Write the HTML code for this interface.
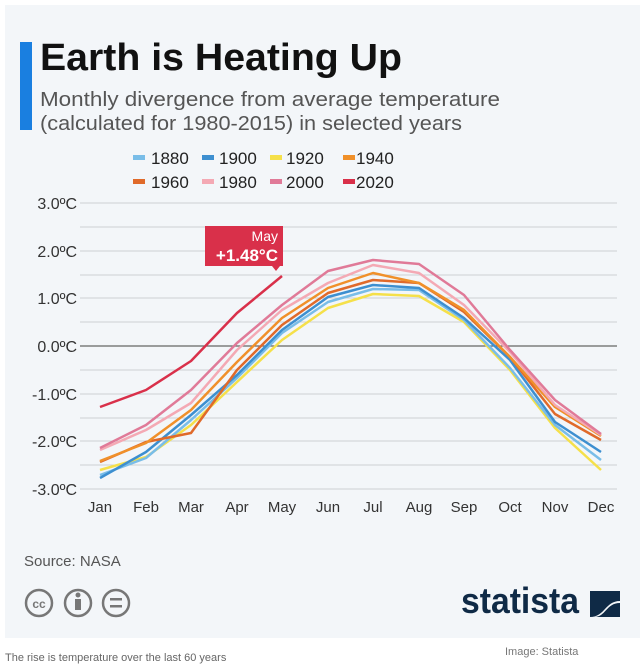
<!DOCTYPE html>
<html><head><meta charset="utf-8"><style>
body{margin:0;width:644px;height:670px;background:#fff;font-family:"Liberation Sans",sans-serif;overflow:hidden;position:relative}
.panel{position:absolute;left:5px;top:5px;width:635px;height:633px;background:#f3f6f9}
</style></head><body>
<div class="panel"></div>
<svg width="644" height="670" style="position:absolute;left:0;top:0" font-family="Liberation Sans, sans-serif">
<rect x="20" y="42" width="12" height="88" fill="#1a7fe0"/>
<text x="40" y="70" font-size="38" font-weight="bold" fill="#111" textLength="362" lengthAdjust="spacingAndGlyphs">Earth is Heating Up</text>
<text x="40" y="106" font-size="20" fill="#555" textLength="460" lengthAdjust="spacingAndGlyphs">Monthly divergence from average temperature</text>
<text x="40" y="130" font-size="20" fill="#555" textLength="422" lengthAdjust="spacingAndGlyphs">(calculated for 1980-2015) in selected years</text>
<g font-size="17" fill="#222">
<rect x="133" y="155" width="12" height="5" fill="#79bde8"/><text x="151" y="164">1880</text>
<rect x="202" y="155" width="12" height="5" fill="#3d8fd0"/><text x="219" y="164">1900</text>
<rect x="270" y="155" width="12" height="5" fill="#f5e04a"/><text x="286" y="164">1920</text>
<rect x="343" y="155" width="12" height="5" fill="#f0902a"/><text x="356" y="164">1940</text>
<rect x="133" y="179" width="12" height="5" fill="#e06a2a"/><text x="151" y="188">1960</text>
<rect x="202" y="179" width="12" height="5" fill="#f4a9b4"/><text x="219" y="188">1980</text>
<rect x="270" y="179" width="12" height="5" fill="#e07a98"/><text x="286" y="188">2000</text>
<rect x="343" y="179" width="12" height="5" fill="#d9304a"/><text x="356" y="188">2020</text>
</g>
<g stroke="#ccd0d4" stroke-width="1">
<line x1="80" x2="617" y1="203" y2="203"/><line x1="80" x2="617" y1="227" y2="227"/><line x1="80" x2="617" y1="251" y2="251"/><line x1="80" x2="617" y1="275" y2="275"/><line x1="80" x2="617" y1="298" y2="298"/><line x1="80" x2="617" y1="322" y2="322"/><line x1="80" x2="617" y1="370" y2="370"/><line x1="80" x2="617" y1="394" y2="394"/><line x1="80" x2="617" y1="418" y2="418"/><line x1="80" x2="617" y1="441" y2="441"/><line x1="80" x2="617" y1="465" y2="465"/><line x1="80" x2="617" y1="489" y2="489"/>
</g>
<line x1="80" x2="617" y1="346" y2="346" stroke="#666" stroke-width="1.2"/>
<g font-size="16" fill="#333" text-anchor="end">
<text x="77" y="209">3.0ºC</text><text x="77" y="257">2.0ºC</text><text x="77" y="304">1.0ºC</text><text x="77" y="352">0.0ºC</text><text x="77" y="400">-1.0ºC</text><text x="77" y="447">-2.0ºC</text><text x="77" y="495">-3.0ºC</text>
</g>
<g font-size="15" fill="#333" text-anchor="middle">
<text x="100" y="512">Jan</text><text x="146" y="512">Feb</text><text x="191" y="512">Mar</text><text x="237" y="512">Apr</text><text x="282" y="512">May</text><text x="328" y="512">Jun</text><text x="373" y="512">Jul</text><text x="419" y="512">Aug</text><text x="464" y="512">Sep</text><text x="510" y="512">Oct</text><text x="555" y="512">Nov</text><text x="601" y="512">Dec</text>
</g>
<g fill="none" stroke-width="2.5" stroke-linejoin="round">
<polyline stroke="#f5e04a" points="100,470 146,457 191,425 237,382 282,340 328,308 373,294 419,296 464,322 510,370 555,428 601,470"/>
<polyline stroke="#79bde8" points="100,475 146,458 191,420 237,378 282,333 328,302 373,289 419,290 464,320 510,368 555,425 601,460"/>
<polyline stroke="#3d8fd0" points="100,478 146,452 191,415 237,375 282,330 328,297 373,285 419,288 464,318 510,360 555,422 601,452"/>
<polyline stroke="#e06a2a" points="100,462 146,442 191,433 237,370 282,325 328,293 373,280 419,283 464,312 510,357 555,414 601,440"/>
<polyline stroke="#f0902a" points="100,461 146,443 191,410 237,362 282,318 328,288 373,273 419,283 464,310 510,357 555,407 601,436"/>
<polyline stroke="#f4a9b4" points="100,450 146,430 191,403 237,350 282,310 328,283 373,265 419,273 464,305 510,352 555,405 601,435"/>
<polyline stroke="#e07a98" points="100,448 146,425 191,390 237,343 282,305 328,271 373,260 419,264 464,295 510,350 555,400 601,434"/>
<polyline stroke="#d9304a" points="100,407 146,390 191,361 237,313 282,276"/>
</g>
<path d="M205,226 H283 V266 H280 L276,271 L272,266 H205 Z" fill="#d9304a"/>
<text x="278" y="241" font-size="14" fill="#fff" text-anchor="end">May</text>
<text x="278" y="261" font-size="17" font-weight="bold" fill="#fff" text-anchor="end">+1.48°C</text>
<text x="24" y="566" font-size="15" fill="#555">Source: NASA</text>
<g fill="none" stroke="#777" stroke-width="2.5">
<circle cx="39" cy="603" r="13"/><circle cx="78" cy="603" r="13"/><circle cx="116" cy="603" r="13"/>
</g>
<text x="39" y="608" font-size="12" font-weight="bold" fill="#777" text-anchor="middle">cc</text>
<circle cx="78" cy="595" r="2.5" fill="#777"/><rect x="75" y="599" width="6" height="11" fill="#777"/>
<rect x="110" y="598" width="12" height="2.5" fill="#777"/><rect x="110" y="605" width="12" height="2.5" fill="#777"/>
<text x="461" y="613" font-size="36" font-weight="bold" fill="#0f2a46" textLength="118" lengthAdjust="spacingAndGlyphs">statista</text>
<path d="M590,591 H620 V601 C605,601 605,617 590,617 Z" fill="#0f2a46"/>
<path d="M620,603 V617 H594 C606,617 606,603 620,603 Z" fill="#0f2a46"/>
<text x="5" y="661" font-size="11" fill="#666">The rise is temperature over the last 60 years</text>
<text x="505" y="655" font-size="11" fill="#777">Image: Statista</text>
</svg>
</body></html>
